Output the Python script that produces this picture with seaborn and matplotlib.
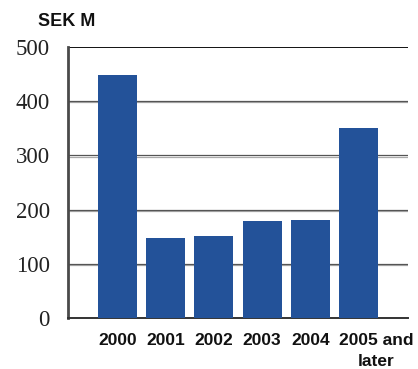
import matplotlib
matplotlib.use("Agg")
import matplotlib.pyplot as plt
import matplotlib.transforms as mtransforms
import matplotlib.patheffects as pe
import seaborn as sns
import pandas as pd

# Data (SEK M)
years = ["2000", "2001", "2002", "2003", "2004", "2005 and\nlater"]
amounts = [448, 148, 152, 179, 181, 350]
y_ticks = [0, 100, 200, 300, 400, 500]

sns.set_theme(style="white")
plt.rcParams["font.family"] = ["Liberation Sans", "DejaVu Sans"]

df = pd.DataFrame({"year": years, "amount": amounts})

fig = plt.figure(figsize=(4.18, 3.69), dpi=100)
ax = fig.add_axes([68 / 418, 51 / 369, 340 / 418, 271 / 369])

sns.barplot(data=df, x="year", y="amount", color="#235299", saturation=1,
            width=0.81, ax=ax, zorder=3, linewidth=0, edgecolor="none")

ax.set_xlim(-1.02, 6.02)
ax.set_ylim(0, 500)
ax.set_yticks(y_ticks)
ax.set_yticklabels([str(v) for v in y_ticks], family="Liberation Serif",
                   fontsize=16.5, color="#222222")
ax.tick_params(axis="y", length=0, pad=13)
ax.tick_params(axis="x", length=0, pad=11)

for lbl in ax.get_xticklabels():
    lbl.set_fontweight("bold")
    lbl.set_fontsize(12.5)
    lbl.set_color("#111111")
    lbl.set_linespacing(1.45)
last = ax.get_xticklabels()[-1]
last.set_ha("left")
last.set_multialignment("center")
last.set_transform(last.get_transform() +
                   mtransforms.ScaledTranslation(-20 / 100, 0, fig.dpi_scale_trans))

ax.set_xlabel("")
ax.set_ylabel("")

# Horizontal grid lines with a faint drop shadow
for v in y_ticks[1:-1]:
    ax.axhline(v, color="#555555", lw=0.9, zorder=1,
               path_effects=[pe.SimpleLineShadow(offset=(0, -0.9), shadow_color="#aaaaaa", alpha=1),
                             pe.Normal()])
ax.axhline(500, color="#111111", lw=1.4, zorder=1)

for side in ["top", "right"]:
    ax.spines[side].set_visible(False)
ax.spines["left"].set_color("#4a4a4a")
ax.spines["left"].set_linewidth(2)
ax.spines["bottom"].set_color("#333333")
ax.spines["bottom"].set_linewidth(1.4)

fig.text(38 / 418, 1 - 21 / 369, "SEK M", fontsize=13, fontweight="bold",
         color="#111111", va="center", ha="left")

fig.savefig("out.png", dpi=100)
